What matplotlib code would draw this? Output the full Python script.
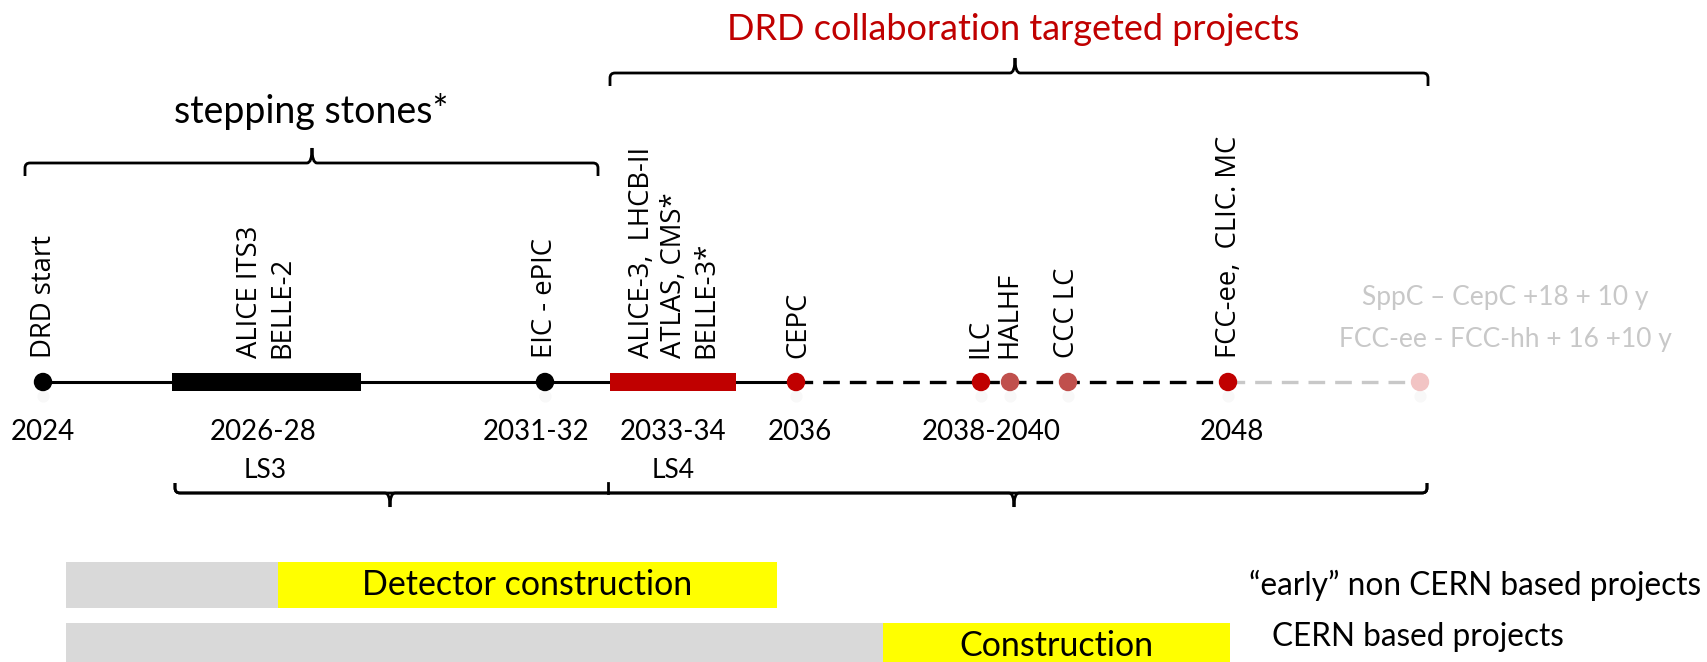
import matplotlib
matplotlib.use('Agg')
import matplotlib.pyplot as plt
from matplotlib.path import Path
from matplotlib.patches import PathPatch

# schematic timeline, x in drawing units (0..1708), y grows downwards
line_y = 382
dot_x = [43, 545, 796, 981, 1010, 1068, 1228, 1420]
dot_colors = ['black', 'black', '#C00000', '#C00000', '#C0504D', '#C0504D', '#C00000', '#F2C4C4']

period_start = [172, 610]
period_end = [361, 736]
period_colors = ['black', '#C00000']

year_labels = ['2024', '2026-28', '2031-32', '2033-34', '2036', '2038-2040', '2048']
year_x = [43, 263, 536, 673, 800, 991, 1232]

project_labels = ['DRD start', 'ALICE ITS3\nBELLE-2', 'EIC - ePIC',
                  'ALICE-3,  LHCB-II\nATLAS, CMS*\nBELLE-3*', 'CEPC',
                  'ILC', 'HALHF', 'CCC LC', 'FCC-ee,  CLIC. MC']
project_x = [44, 266, 545, 674, 798, 980, 1009, 1067, 1229]

far_future = ['SppC \u2013 CepC +18 + 10 y', 'FCC-ee - FCC-hh + 16 +10 y']

shutdowns = ['LS3', 'LS4']
shutdown_x = [265, 673]

# construction rows: grey = R&D, yellow = construction
row_names = ['\u201cearly\u201d non CERN based projects', 'CERN based projects']
row_start = [66, 66]
row_switch = [278, 883]
row_end = [777, 1230]
row_text = ['Detector construction', 'Construction']

RED = '#C00000'
CAL = 'Lato'
SEG = 'Open Sans'


def brace(ax, x0, x1, xm, y, d, arm=13, tip=15, r=5):
    verts = [(x0, y + d * arm), (x0, y + d * r), (x0, y), (x0 + r, y),
             (xm - r, y), (xm, y), (xm, y - d * tip), (xm, y), (xm + r, y),
             (x1 - r, y), (x1, y), (x1, y + d * r), (x1, y + d * arm)]
    codes = [Path.MOVETO, Path.LINETO, Path.CURVE3, Path.CURVE3,
             Path.LINETO, Path.CURVE3, Path.CURVE3, Path.CURVE3, Path.CURVE3,
             Path.LINETO, Path.CURVE3, Path.CURVE3, Path.LINETO]
    ax.add_patch(PathPatch(Path(verts, codes), fill=False, lw=2.0,
                           edgecolor='black', capstyle='butt'))


def main():
    fig = plt.figure(figsize=(17.08, 6.62), dpi=100)
    ax = fig.add_axes([0, 0, 1, 1])
    ax.set_xlim(0, 1708)
    ax.set_ylim(662, 0)
    ax.axis('off')

    # headers and braces
    ax.text(1013, 30, 'DRD collaboration targeted projects', color=RED,
            fontsize=26, family=CAL, ha='center', va='center')
    brace(ax, 610, 1428, 1015, 73, 1)
    ax.text(311, 112, 'stepping stones*', fontsize=27, family=CAL,
            ha='center', va='center')
    brace(ax, 25, 598, 312, 163, 1)
    brace(ax, 175, 1427, 390, 493, -1, arm=10, tip=14)
    brace(ax, 175, 1427, 1014, 493, -1, arm=10, tip=14)
    ax.plot([608, 608], [483, 493], color='black', lw=2.0)
    for s, sx in zip(shutdowns, shutdown_x):
        ax.text(sx, 470, s, fontsize=19, family=CAL, ha='center', va='center')

    # the timeline itself
    ax.plot([dot_x[0], dot_x[2]], [line_y, line_y], color='black', lw=2.2, zorder=1)
    ax.plot([dot_x[2], dot_x[6]], [line_y, line_y], color='black', lw=2.4,
            ls=(0, (5, 3)), zorder=1)
    ax.plot([dot_x[6], dot_x[7]], [line_y, line_y], color='#C8C8C8', lw=2.4,
            ls=(0, (5, 3)), zorder=1)
    ax.barh(line_y, [e - s for s, e in zip(period_start, period_end)],
            left=period_start, height=18, color=period_colors, zorder=2)
    # faint reflections under the dots
    ax.scatter(dot_x, [line_y + 14] * len(dot_x), s=60, color='#F8F8F8', zorder=1)
    ax.scatter(dot_x, [line_y] * len(dot_x), s=150, color=dot_colors, zorder=3)

    for lab, yx in zip(year_labels, year_x):
        ax.text(yx, 432, lab, fontsize=20, family=CAL, ha='center', va='center')
    for lab, px in zip(project_labels, project_x):
        ax.text(px, 358, lab, fontsize=19.8, family=SEG, rotation=90,
                ha='center', va='bottom', multialignment='left', linespacing=1.2)
    for i, t in enumerate(far_future):
        ax.text(1505, 297 + 43 * i, t, fontsize=19, family=CAL, color='#C8C8C8',
                ha='center', va='center')

    # R&D / construction rows
    for i in range(len(row_names)):
        yc = 585 + 61 * i
        ax.barh(yc, row_switch[i] - row_start[i], left=row_start[i], height=46,
                color='#D9D9D9')
        ax.barh(yc, row_end[i] - row_switch[i], left=row_switch[i], height=46,
                color='#FFFF00')
        ax.text((row_switch[i] + row_end[i]) / 2, yc, row_text[i],
                fontsize=24.5, family=CAL, ha='center', va='center')
    ax.text(1249, 585, row_names[0], fontsize=22.7, family=CAL, va='center')
    ax.text(1272, 637, row_names[1], fontsize=22.7, family=CAL, va='center')

    fig.savefig('out.png', dpi=100)


if __name__ == "__main__":
    main()
